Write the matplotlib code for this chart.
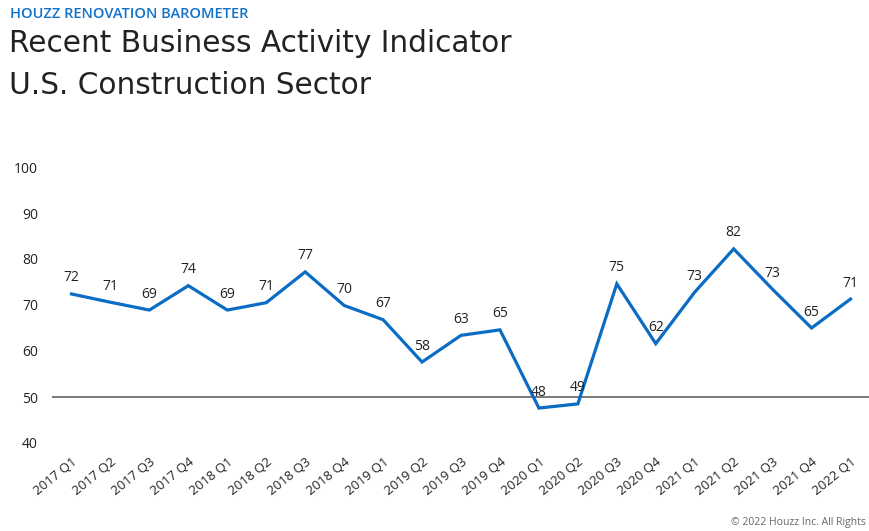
import matplotlib
matplotlib.use("Agg")
import matplotlib.pyplot as plt

quarters = ["2017 Q1", "2017 Q2", "2017 Q3", "2017 Q4",
            "2018 Q1", "2018 Q2", "2018 Q3", "2018 Q4",
            "2019 Q1", "2019 Q2", "2019 Q3", "2019 Q4",
            "2020 Q1", "2020 Q2", "2020 Q3", "2020 Q4",
            "2021 Q1", "2021 Q2", "2021 Q3", "2021 Q4",
            "2022 Q1"]
values = [72.4, 70.6, 68.9, 74.2, 68.9, 70.5, 77.2, 69.9, 66.8, 57.6,
          63.4, 64.6, 47.6, 48.5, 74.6, 61.6, 72.8, 82.2, 73.4, 65.0, 71.3]
labels = [72, 71, 69, 74, 69, 71, 77, 70, 67, 58,
          63, 65, 48, 49, 75, 62, 73, 82, 73, 65, 71]
yticks = [40, 50, 60, 70, 80, 90, 100]
ref_level = 50

plt.rcParams["font.family"] = ["Open Sans", "DejaVu Sans"]

W, H = 870, 531
fig = plt.figure(figsize=(W / 100, H / 100), dpi=100)
ax = fig.add_axes([52 / W, 1 - 443 / H, (870 - 52) / W, (443 - 167) / H])

x = list(range(len(quarters)))
ax.plot(x, values, color="#0a6cc4", lw=2.3, solid_joinstyle="miter", zorder=3)
ax.axhline(ref_level, color="#555555", lw=1.1, zorder=2)

for xi, v, lab in zip(x, values, labels):
    ax.annotate(str(lab), (xi, v), xytext=(0, 11.5), textcoords="offset points",
                ha="center", va="center", fontsize=10, color="#222222", zorder=4)

ax.set_xlim(-0.5, len(quarters) - 0.5)
ax.set_ylim(40, 100)
ax.set_yticks(yticks)
ax.set_yticklabels([str(t) for t in yticks], fontsize=10, color="#222222")
ax.set_xticks(x)
ax.set_xticklabels(quarters, rotation=39, ha="right", va="top",
                   rotation_mode="anchor", fontsize=9.5, color="#222222")
ax.tick_params(axis="both", length=0)
ax.tick_params(axis="y", pad=10)
ax.tick_params(axis="x", pad=9)
for s in ax.spines.values():
    s.set_visible(False)
for lbl in ax.get_yticklabels():
    lbl.set_horizontalalignment("right")

fig.text(10 / W, 1 - 18 / H, "HOUZZ RENOVATION BAROMETER", fontsize=10.5,
         fontweight="semibold", color="#1271c9", va="baseline", ha="left")
fig.text(9 / W, 1 - 52 / H, "Recent Business Activity Indicator", fontsize=21.3,
         color="#222222", va="baseline", ha="left", family=["DejaVu Sans"])
fig.text(9 / W, 1 - 94 / H, "U.S. Construction Sector", fontsize=21.3,
         color="#222222", va="baseline", ha="left", family=["DejaVu Sans"])
fig.text(866 / W, 1 - 522 / H, "© 2022 Houzz Inc. All Rights",
         fontsize=7.5, color="#666666", va="center", ha="right")

fig.savefig("out.png", dpi=100)
